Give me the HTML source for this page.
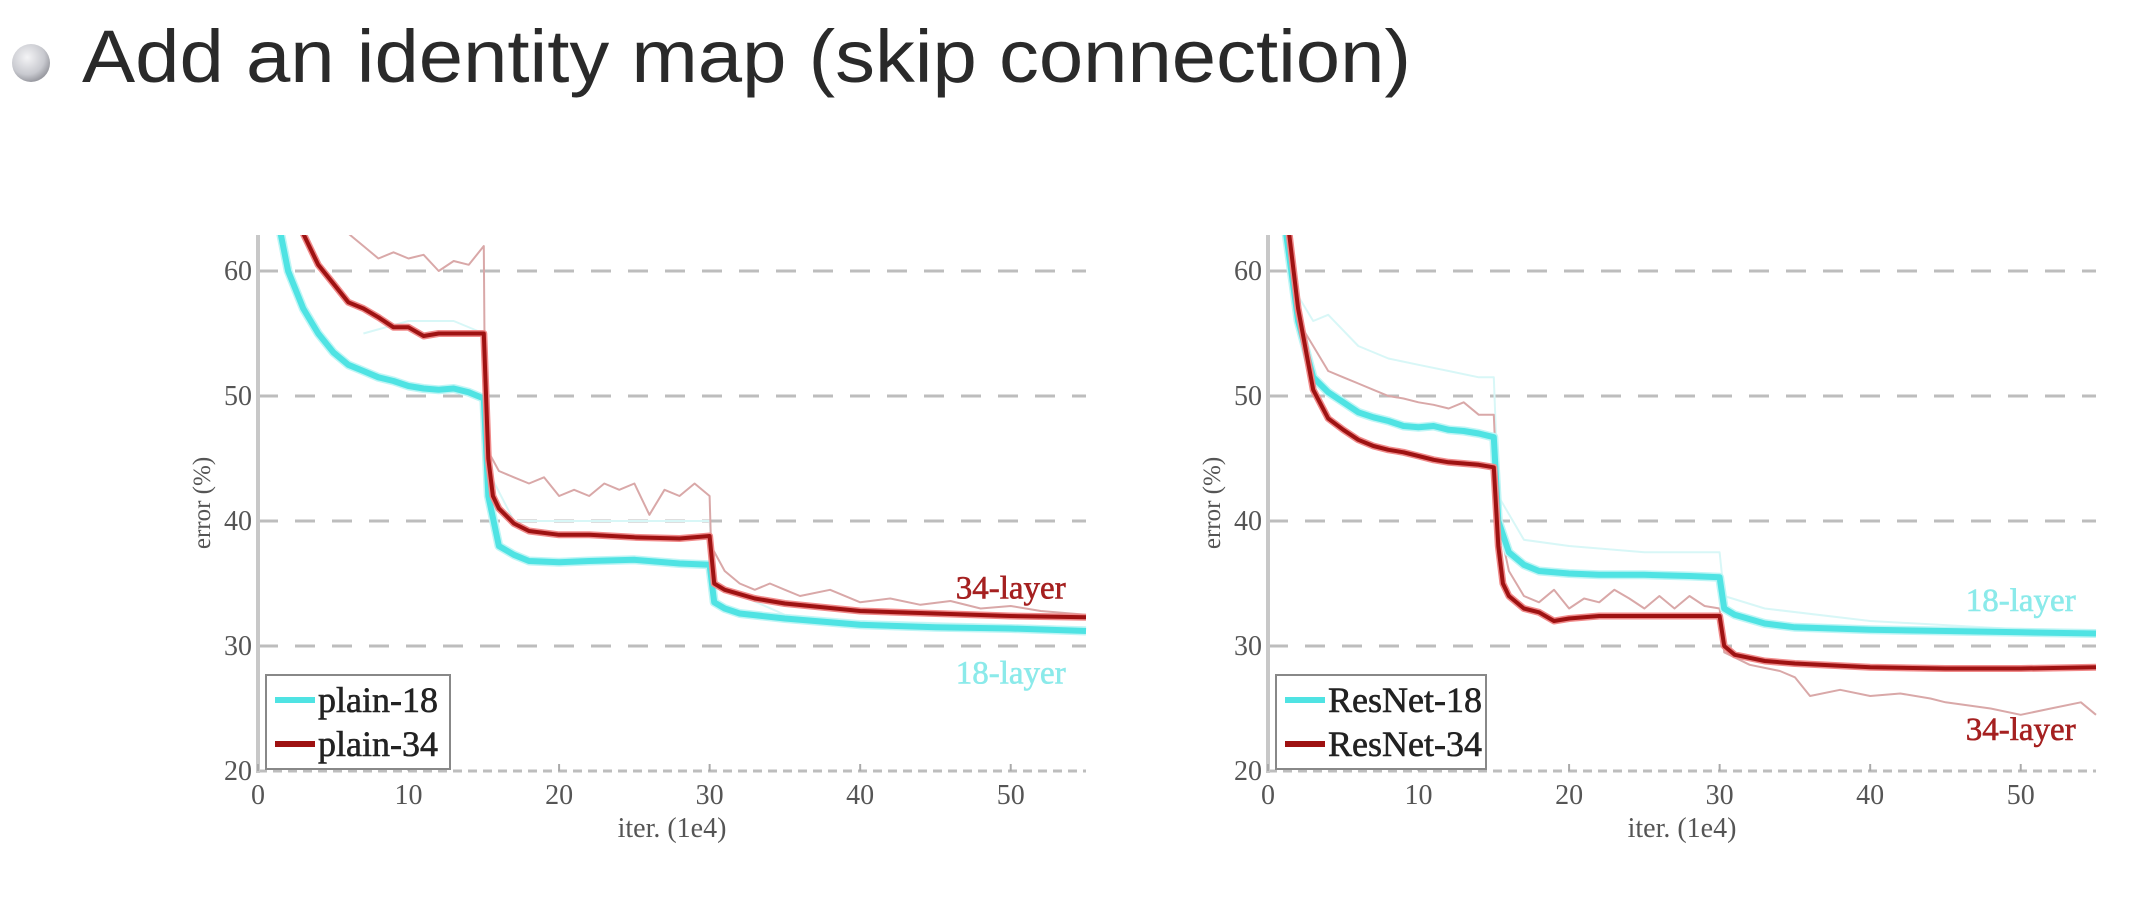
<!DOCTYPE html>
<html><head><meta charset="utf-8">
<style>
html,body{margin:0;padding:0;background:#fff;}
svg{display:block;}
</style></head>
<body>
<svg id="root" width="2136" height="912" viewBox="0 0 2136 912" xmlns="http://www.w3.org/2000/svg">
<defs>
<radialGradient id="bul" cx="40%" cy="35%" r="65%">
<stop offset="0" stop-color="#f4f4f6"/><stop offset="0.7" stop-color="#c8c9cf"/><stop offset="1" stop-color="#9a9ba2"/>
</radialGradient>
</defs>
<circle cx="31" cy="63" r="19" fill="url(#bul)"/>
<text x="82" y="82" font-family="Liberation Sans, DejaVu Sans, sans-serif" font-size="74" fill="#2a2a2a" textLength="1329" lengthAdjust="spacingAndGlyphs">Add an identity map (skip connection)</text>
<g id="c1"></g>
<g id="c2"></g>
</svg>
<script>
// ---- data: plain network (left) ----
const plain18X = [1.5,2,3,4,5,6,7,8,9,10,11,12,13,14,15,15.3,16,17,18,20,22,25,28,30,30.3,31,32,35,38,40,45,50,55];
const plain18Y = [63,60,57,55,53.5,52.5,52,51.5,51.2,50.8,50.6,50.5,50.6,50.3,49.8,42,38,37.3,36.8,36.7,36.8,36.9,36.6,36.5,33.5,33,32.6,32.2,31.9,31.7,31.5,31.4,31.2];
const plain34X = [3,4,5,6,7,8,9,10,11,12,13,14,15,15.3,15.6,16,17,18,20,22,25,28,30,30.3,31,33,35,40,45,50,55];
const plain34Y = [63,60.5,59,57.5,57,56.3,55.5,55.5,54.8,55,55,55,55,45,42,41,39.8,39.2,38.9,38.9,38.7,38.6,38.8,35,34.5,33.8,33.4,32.8,32.6,32.4,32.3];
const plain34TrainX = [6,7,8,9,10,11,12,13,14,15,15.1,16,17,18,19,20,21,22,23,24,25,26,27,28,29,30,30.1,31,32,33,34,35,36,38,40,42,44,46,48,50,52,55];
const plain34TrainY = [63,62,61,61.5,61,61.3,60,60.8,60.5,62,46,44,43.5,43,43.5,42,42.5,42,43,42.5,43,40.5,42.5,42,43,42,38,36,35,34.5,35,34.5,34,34.5,33.5,33.8,33.3,33.6,33,33.2,32.8,32.5];
const plain18TrainX = [7,10,13,15,15.3,17,20,25,30,30.3,35,40,55];
const plain18TrainY = [55,56,56,55,44,40,40,40,40,35,32.5,32,31.5];
// ---- data: ResNet (right) ----
const res18X = [1.2,2,3,4,5,6,7,8,9,10,11,12,13,14,15,15.3,16,17,18,20,22,25,28,30,30.3,31,33,35,40,45,50,55];
const res18Y = [63,56,51.5,50.3,49.5,48.7,48.3,48,47.6,47.5,47.6,47.3,47.2,47,46.7,40,37.5,36.5,36,35.8,35.7,35.7,35.6,35.5,33,32.5,31.8,31.5,31.3,31.2,31.1,31];
const res34X = [1.4,2,3,4,5,6,7,8,9,10,11,12,13,14,15,15.3,15.6,16,17,18,19,20,22,25,28,30,30.3,31,33,35,40,45,50,55];
const res34Y = [63,57,50.5,48.2,47.3,46.5,46,45.7,45.5,45.2,44.9,44.7,44.6,44.5,44.3,38,35,34,33,32.7,32,32.2,32.4,32.4,32.4,32.4,30,29.3,28.8,28.6,28.3,28.2,28.2,28.3];
const res34TrainX = [2,3,4,5,6,7,8,9,10,11,12,13,14,15,15.3,16,17,18,19,20,21,22,23,24,25,26,27,28,29,30,30.3,32,34,35,36,38,40,42,44,45,48,50,52,54,55];
const res34TrainY = [56,54,52,51.5,51,50.5,50,49.8,49.5,49.3,49,49.5,48.5,48.5,40,36,34,33.5,34.5,33,33.8,33.5,34.5,33.8,33,34,33,34,33.2,33,29.5,28.5,28,27.5,26,26.5,26,26.2,25.8,25.5,25,24.5,25,25.5,24.5];
const res18TrainX = [2,3,4,6,8,10,12,14,15,15.3,17,20,25,30,30.3,33,40,55];
const res18TrainY = [58,56,56.5,54,53,52.5,52,51.5,51.5,42,38.5,38,37.5,37.5,34,33,32,31];
// ---- axes ----
const xTicks = [0,10,20,30,40,50];
const yTicks = [20,30,40,50,60];
const xMax = 55, yMin = 20, yMax = 62.9;

const NS = "http://www.w3.org/2000/svg";
function mk(tag, attrs, parent){const e=document.createElementNS(NS,tag);for(const k in attrs)e.setAttribute(k,attrs[k]);parent.appendChild(e);return e;}

function chart(gid, x0, leg, ann, series){
  const g = document.getElementById(gid);
  const W = 828, yTop = 235, y60 = 271, per10 = 125;
  const sx = v => x0 + v / xMax * W;
  const sy = v => y60 + (60 - v) / 10 * per10;
  const yBot = sy(20);
  yTicks.forEach(t => {
    const l = mk('line',{x1:x0,x2:x0+W,y1:sy(t),y2:sy(t),stroke:'#bdbdbd','stroke-width':3,'stroke-dasharray':t===20?'9 6':'20 17'},g);
    
    
    const tx = mk('text',{x:x0-6,y:sy(t)+9,'text-anchor':'end','font-family':'Liberation Serif, serif','font-size':28,fill:'#555'},g);
    tx.textContent = t;
    
    
  });
  const ax = mk('line',{x1:x0,x2:x0,y1:yTop,y2:yBot+2,stroke:'#c8c8c8','stroke-width':4},g);
  
  
  xTicks.forEach(t => {
    const tk = mk('line',{x1:sx(t),x2:sx(t),y1:yBot,y2:yBot-7,stroke:'#aaa','stroke-width':2},g);
    
    
    const tx = mk('text',{x:sx(t),y:yBot+33,'text-anchor':'middle','font-family':'Liberation Serif, serif','font-size':28,fill:'#555'},g);
    tx.textContent = t;
    
    
  });
  const xl = mk('text',{x:x0+W/2,y:yBot+66,'text-anchor':'middle','font-family':'Liberation Serif, serif','font-size':28,fill:'#555'},g);
  xl.textContent='iter. (1e4)';
  
  
  const yl = mk('text',{x:0,y:0,'text-anchor':'middle','font-family':'Liberation Serif, serif','font-size':25,fill:'#555',transform:`translate(${x0-48},${(yTop+yBot)/2}) rotate(-90)`},g);
  yl.textContent='error (%)';
  
  
  const clip = 'clip-'+gid;
  const cp = mk('clipPath',{id:clip},g); mk('rect',{x:x0,y:yTop,width:W+4,height:yBot-yTop},cp);
  series.forEach(s => {
    const d = s.x.map((v,i)=>(i?'L':'M')+sx(v).toFixed(1)+' '+sy(s.y[i]).toFixed(1)).join(' ');
    if (s.halo){ const h = mk('path',{d,fill:'none',stroke:s.halo,'stroke-width':s.w+3,'stroke-linejoin':'round','clip-path':`url(#${clip})`},g);
      
       }
    const p = mk('path',{d,fill:'none',stroke:s.c,'stroke-width':s.w,'stroke-linejoin':'round','clip-path':`url(#${clip})`},g);
    
    
  });
  const lb = mk('rect',{x:x0+8,y:675,width:leg.w,height:94,fill:'#fff',stroke:'#888','stroke-width':2},g);
  
  
  leg.items.forEach((it,i)=>{
    const yy = 700+i*44;
    const ll = mk('line',{x1:x0+17,x2:x0+57,y1:yy,y2:yy,stroke:it.c,'stroke-width':6},g);
    
    
    const lt = mk('text',{x:x0+60,y:yy+12,'font-family':'Liberation Serif, serif','font-size':36,fill:'#222','stroke':'#222','stroke-width':0.6},g);
    lt.textContent = it.t;
    
    
  });
  ann.forEach(a=>{
    const t = mk('text',{x:sx(a.x),y:sy(a.y),'text-anchor':'middle','font-family':'Liberation Serif, serif','font-size':33,fill:a.c,stroke:a.c,'stroke-width':0.6},g);
    t.textContent = a.t;
    
    
  });
}
const CY='#4fe3e3', CYL='#bff5f5', RD='#9e1212', RDL='#f08a8a', TRD='#d9a8a8', TCY='#d8f7f7';
chart('c1',258,{w:184,items:[{c:CY,t:'plain-18'},{c:RD,t:'plain-34'}]},
  [{x:50,y:33.8,t:'34-layer',c:'#a52020'},{x:50,y:27,t:'18-layer',c:'#8beaea'}],
  [{x:plain18TrainX,y:plain18TrainY,c:TCY,w:2,name:'plain-18-train-line'},
   {x:plain34TrainX,y:plain34TrainY,c:TRD,w:2,name:'plain-34-train-line'},
   {x:plain18X,y:plain18Y,c:CY,w:6,halo:CYL,name:'plain-18-line'},
   {x:plain34X,y:plain34Y,c:RD,w:4,halo:RDL,name:'plain-34-line'}]);
chart('c2',1268,{w:210,items:[{c:CY,t:'ResNet-18'},{c:RD,t:'ResNet-34'}]},
  [{x:50,y:32.8,t:'18-layer',c:'#8beaea'},{x:50,y:22.5,t:'34-layer',c:'#a52020'}],
  [{x:res18TrainX,y:res18TrainY,c:TCY,w:2,name:'resnet-18-train-line'},
   {x:res34TrainX,y:res34TrainY,c:TRD,w:2,name:'resnet-34-train-line'},
   {x:res18X,y:res18Y,c:CY,w:6,halo:CYL,name:'resnet-18-line'},
   {x:res34X,y:res34Y,c:RD,w:4,halo:RDL,name:'resnet-34-line'}]);
</script>
</body></html>
